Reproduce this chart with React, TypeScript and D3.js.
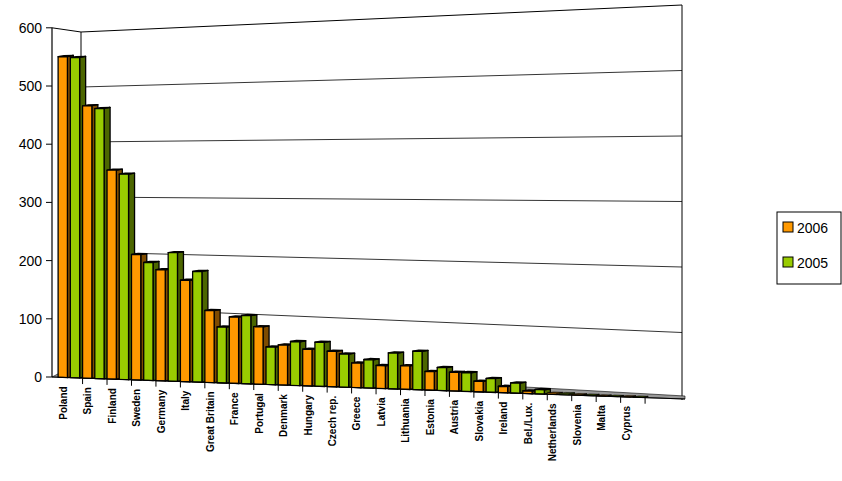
import * as d3 from "d3";

const countries = [
  "Poland", "Spain", "Finland", "Sweden", "Germany", "Italy", "Great Britain", "France",
  "Portugal", "Denmark", "Hungary", "Czech rep.", "Greece", "Latvia", "Lithuania", "Estonia",
  "Austria", "Slovakia", "Ireland", "Bel./Lux.", "Netherlands", "Slovenia", "Malta", "Cyprus",
];
const values2006 = [550, 465, 355, 212, 187, 170, 120, 110, 95, 66, 60, 58, 40, 37, 38, 30, 30, 17, 10, 4, 2, 1, 0.5, 0.5];
const values2005 = [548, 460, 348, 199, 216, 185, 93, 113, 62, 72, 72, 54, 46, 58, 62, 37, 30, 22, 16, 7, 2, 1, 0.5, 0.5];
const yTicks = [0, 100, 200, 300, 400, 500, 600];
const series = [
  { name: "2006", values: values2006, front: "#ff9900", side: "#7f4c00" },
  { name: "2005", values: values2005, front: "#99cc00", side: "#4c6600" },
];

const W = 842, H = 481;
// u runs 0..1 across the category axis
const u = d3.scaleBand<number>().domain(d3.range(countries.length)).range([0, 0.955]).paddingOuter(0.3).paddingInner(0);
const xf = d3.scaleLinear().domain([0, 1]).range([52, 682]);
const xb = d3.scaleLinear().domain([0, 1]).range([81, 682]);
const baseF = d3.scaleLinear().domain([0, 1]).range([377, 399]);
const pxF = d3.scaleLinear().domain([0, 1]).range([0.582, 0.652]);
const baseB = d3.scaleLinear().domain([0, 1]).range([362, 398]);
const pxB = d3.scaleLinear().domain([0, 1]).range([0.55, 0.655]);
const yf = (t: number, v: number) => baseF(t) - v * pxF(t);
const yb = (t: number, v: number) => baseB(t) - v * pxB(t);

const pts = (p: [number, number][]) => p.map((q) => q.join(",")).join(" ");

export default function App() {
  const bw = u.bandwidth();
  const bars: JSX.Element[] = [];
  countries.forEach((c, i) => {
    series.forEach((s, k) => {
      const v = s.values[i];
      const t0 = (u(i) as number) - bw * 0.05 + (k * bw) / 2;
      const t1 = t0 + bw * 0.38;
      const x0 = xf(t0), x1 = xf(t1);
      const d = 6, dy = -1;
      const b0 = baseF(t0), b1 = baseF(t1);
      const h0 = yf(t0, v), h1 = yf(t1, v);
      bars.push(
        <g key={c + s.name} stroke="#000" strokeWidth={v > 3 ? 1.3 : 0.6} strokeLinejoin="round">
          <polygon points={pts([[x1, b1], [x1 + d, b1 + dy], [x1 + d, h1 + dy], [x1, h1]])} fill={s.side} />
          <polygon points={pts([[x0, h0], [x0 + d, h0 + dy], [x1 + d, h1 + dy], [x1, h1]])} fill={s.side} />
          <polygon points={pts([[x0, b0], [x1, b1], [x1, h1], [x0, h0]])} fill={s.front} />
        </g>
      );
    });
  });

  return (
    <svg width={W} height={H} style={{ position: "absolute", left: 0, top: 0, background: "#fff" }} fontFamily="Liberation Sans, Arial, sans-serif">
      {/* back walls */}
      <line x1={xb(0)} y1={yb(0, 600)} x2={xb(1)} y2={yb(1, 600)} stroke="#000" />
      <line x1={xf(0)} y1={yf(0, 600)} x2={xb(0)} y2={yb(0, 600)} stroke="#000" />
      <line x1={xb(0)} y1={yb(0, 600)} x2={xb(0)} y2={yb(0, 0)} stroke="#000" />
      <line x1={682} y1={yb(1, 600)} x2={682} y2={baseF(1) + 1} stroke="#000" />
      {yTicks.slice(1, -1).map((v) => (
        <line key={v} x1={xb(0)} y1={yb(0, v)} x2={xb(1)} y2={yb(1, v)} stroke="#000" strokeWidth={0.8} />
      ))}
      {/* floor */}
      <polygon points={pts([[xf(0), baseF(0)], [xf(1) + 3, baseF(1)], [xb(1) + 3, baseF(1) - 3], [xb(0), baseB(0)]])} fill="#999" stroke="#000" strokeWidth={0.6} />
      {bars}
      {/* front axes */}
      <line x1={xf(0)} y1={yf(0, 0)} x2={xf(0)} y2={yf(0, 600)} stroke="#000" strokeWidth={1.2} />
      <line x1={xf(0)} y1={baseF(0)} x2={xf(1) + 3} y2={baseF(1)} stroke="#000" strokeWidth={1.2} />
      {yTicks.map((v) => (
        <g key={v}>
          <line x1={46} x2={52} y1={yf(0, v)} y2={yf(0, v)} stroke="#000" />
          <text x={42} y={yf(0, v) + 5} textAnchor="end" fontSize={14}>{v}</text>
        </g>
      ))}
      {countries.map((c, i) => {
        const te = (u(i) as number) + bw * 0.95;
        const tc = (u(i) as number) + bw * 0.15;
        return (
          <g key={c}>
            <line x1={xf(te)} x2={xf(te)} y1={baseF(te)} y2={baseF(te) + 6} stroke="#000" />
            <text transform={`translate(${xf(tc) + 4},${baseF(tc) + 9}) rotate(-90)`} textAnchor="end" fontSize={10} fontWeight="bold">{c}</text>
          </g>
        );
      })}
      {/* legend */}
      <rect x={777} y={212} width={64} height={72} fill="#fff" stroke="#000" />
      {series.map((s, k) => (
        <g key={s.name}>
          <rect x={783} y={222 + k * 35} width={10} height={10} fill={s.front} stroke="#000" />
          <text x={797} y={233 + k * 35} fontSize={14}>{s.name}</text>
        </g>
      ))}
    </svg>
  );
}
